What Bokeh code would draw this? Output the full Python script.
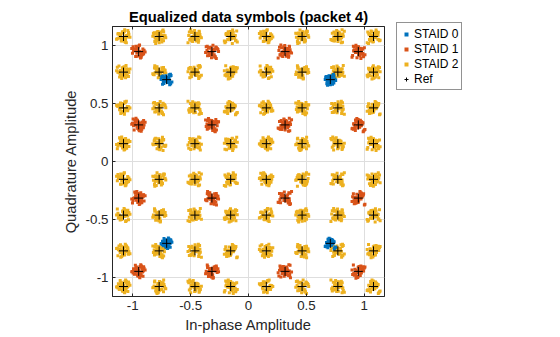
import numpy as np
from bokeh.plotting import figure
from bokeh.models import LinearAxis, Range1d, Legend, LegendItem, FixedTicker
from bokeh.embed import file_html
from bokeh.resources import INLINE

title_text = "Equalized data symbols (packet 4)"
x_label = "In-phase Amplitude"
y_label = "Quadrature Amplitude"
series_labels = ["STAID 0", "STAID 1", "STAID 2", "Ref"]

# constellation levels (per axis) for each station
staid0_levels = [-0.707, 0.707]
staid1_levels = [-0.949, -0.316, 0.316, 0.949]
staid2_levels = [-1.080, -0.772, -0.463, -0.154, 0.154, 0.463, 0.772, 1.080]

tick_values = [-1, -0.5, 0, 0.5, 1]
tick_labels = ["-1", "-0.5", "0", "0.5", "1"]

# hand-read jitter offsets of received symbols around each point (x0.01)
noise_dx = [0.3, -1.2, 2.1, -2.8, 0.9, 1.7, -0.5, -3.4, 2.9, -1.8, 0.1, 3.6,
            -2.2, 1.2, -0.8, 2.5, -4.1, 0.6, -1.5, 3.1, -2.6, 1.9, -0.2, 4.3,
            -3.0, 0.8, -1.1, 2.3, -3.7, 1.4, -0.6, 2.8, -2.0, 0.4, 3.3, -4.6]
noise_dy = [1.1, -0.4, 2.6, -1.9, 3.2, -2.7, 0.7, 1.8, -3.3, 0.2, -1.4, 2.0,
            4.0, -0.9, -2.3, 1.5, -0.1, -3.8, 2.9, 0.5, -1.6, 3.5, -2.9, 0.9,
            1.3, -4.2, 2.2, -0.6, -1.0, 4.4, -3.1, 0.0, 1.7, -2.0, 3.0, -0.3]

COL0 = "#0072BD"
COL1 = "#D95319"
COL2 = "#EDB120"
INK = "#262626"
FONT = "Liberation Sans"


def received(levels, spread, shift):
    xs, ys = [], []
    n = len(noise_dx)
    k = 0
    for q in levels:
        for i in levels:
            for j in range(n):
                a = noise_dx[j]
                b = noise_dy[(j + shift * k) % n]
                if k % 2:
                    a, b = b, a
                xs.append(i + spread * a * 0.01)
                ys.append(q + spread * b * 0.01)
            k += 1
    return xs, ys


def ref_points(levels):
    xs, ys = [], []
    for q in levels:
        for i in levels:
            xs.append(i)
            ys.append(q)
    return xs, ys


x0, y0 = received(staid0_levels, 1.05, 5)
x1, y1 = received(staid1_levels, 1.3, 7)
x2, y2 = received(staid2_levels, 1.3, 11)
rx, ry = [], []
for lv in (staid0_levels, staid1_levels, staid2_levels):
    a, b = ref_points(lv)
    rx += a
    ry += b

p = figure(frame_width=272, frame_height=270, output_backend="svg",
           toolbar_location=None,
           x_range=Range1d(-1.175, 1.175), y_range=Range1d(-1.166, 1.166),
           min_border_left=112, min_border_right=0, min_border_top=26,
           min_border_bottom=41, title=title_text)
p.background_fill_color = "white"
p.border_fill_color = "white"
p.outline_line_color = INK
p.outline_line_width = 1

p.title.align = "center"
p.title.text_font = FONT
p.title.text_font_size = "14.7px"
p.title.text_font_style = "bold"
p.title.text_color = "#000000"
p.title.standoff = 3
p.title.offset = 0

ticker = FixedTicker(ticks=tick_values)
overrides = {v: t for v, t in zip(tick_values, tick_labels)}
for ax, lab in ((p.xaxis[0], x_label), (p.yaxis[0], y_label)):
    ax.ticker = ticker
    ax.major_label_overrides = overrides
    ax.axis_label = lab
    ax.axis_label_text_font = FONT
    ax.axis_label_text_font_size = "14.7px"
    ax.axis_label_text_font_style = "normal"
    ax.axis_label_text_color = INK
    ax.axis_label_standoff = 4
    ax.major_label_text_font = FONT
    ax.major_label_text_font_size = "13.3px"
    ax.major_label_text_color = INK
    ax.major_label_standoff = 4
    ax.major_tick_in = 3
    ax.major_tick_out = 0
    ax.minor_tick_line_color = None
    ax.axis_line_color = INK
    ax.major_tick_line_color = INK

top_axis = LinearAxis(ticker=ticker, major_label_text_alpha=0,
                      major_label_text_font_size="1px",
                      major_tick_in=3, major_tick_out=0,
                      minor_tick_line_color=None, axis_line_color=INK,
                      major_tick_line_color=INK, major_label_standoff=0)
p.add_layout(top_axis, "above")

p.xgrid.ticker = ticker
p.ygrid.ticker = ticker
p.grid.grid_line_color = "#dedede"
p.grid.grid_line_width = 1

r2 = p.scatter(x2, y2, marker="square", size=3, fill_color=COL2, line_color=None)
r1 = p.scatter(x1, y1, marker="square", size=3, fill_color=COL1, line_color=None)
r0 = p.scatter(x0, y0, marker="square", size=3, fill_color=COL0, line_color=None)
rr = p.scatter(rx, ry, marker="cross", size=9, line_color="#000000", line_width=1)

legend = Legend(items=[LegendItem(label=series_labels[0], renderers=[r0]),
                       LegendItem(label=series_labels[1], renderers=[r1]),
                       LegendItem(label=series_labels[2], renderers=[r2]),
                       LegendItem(label=series_labels[3], renderers=[rr])],
                location=(12, 206), margin=0, padding=3, spacing=0,
                glyph_width=12, glyph_height=10, label_height=15,
                label_standoff=2, label_text_font=FONT,
                label_text_font_size="12px", label_text_color="#000000",
                border_line_color=INK, border_line_width=1,
                background_fill_color="white", background_fill_alpha=1)
p.add_layout(legend, "right")

open("out.html", "w").write(file_html(p, INLINE))
